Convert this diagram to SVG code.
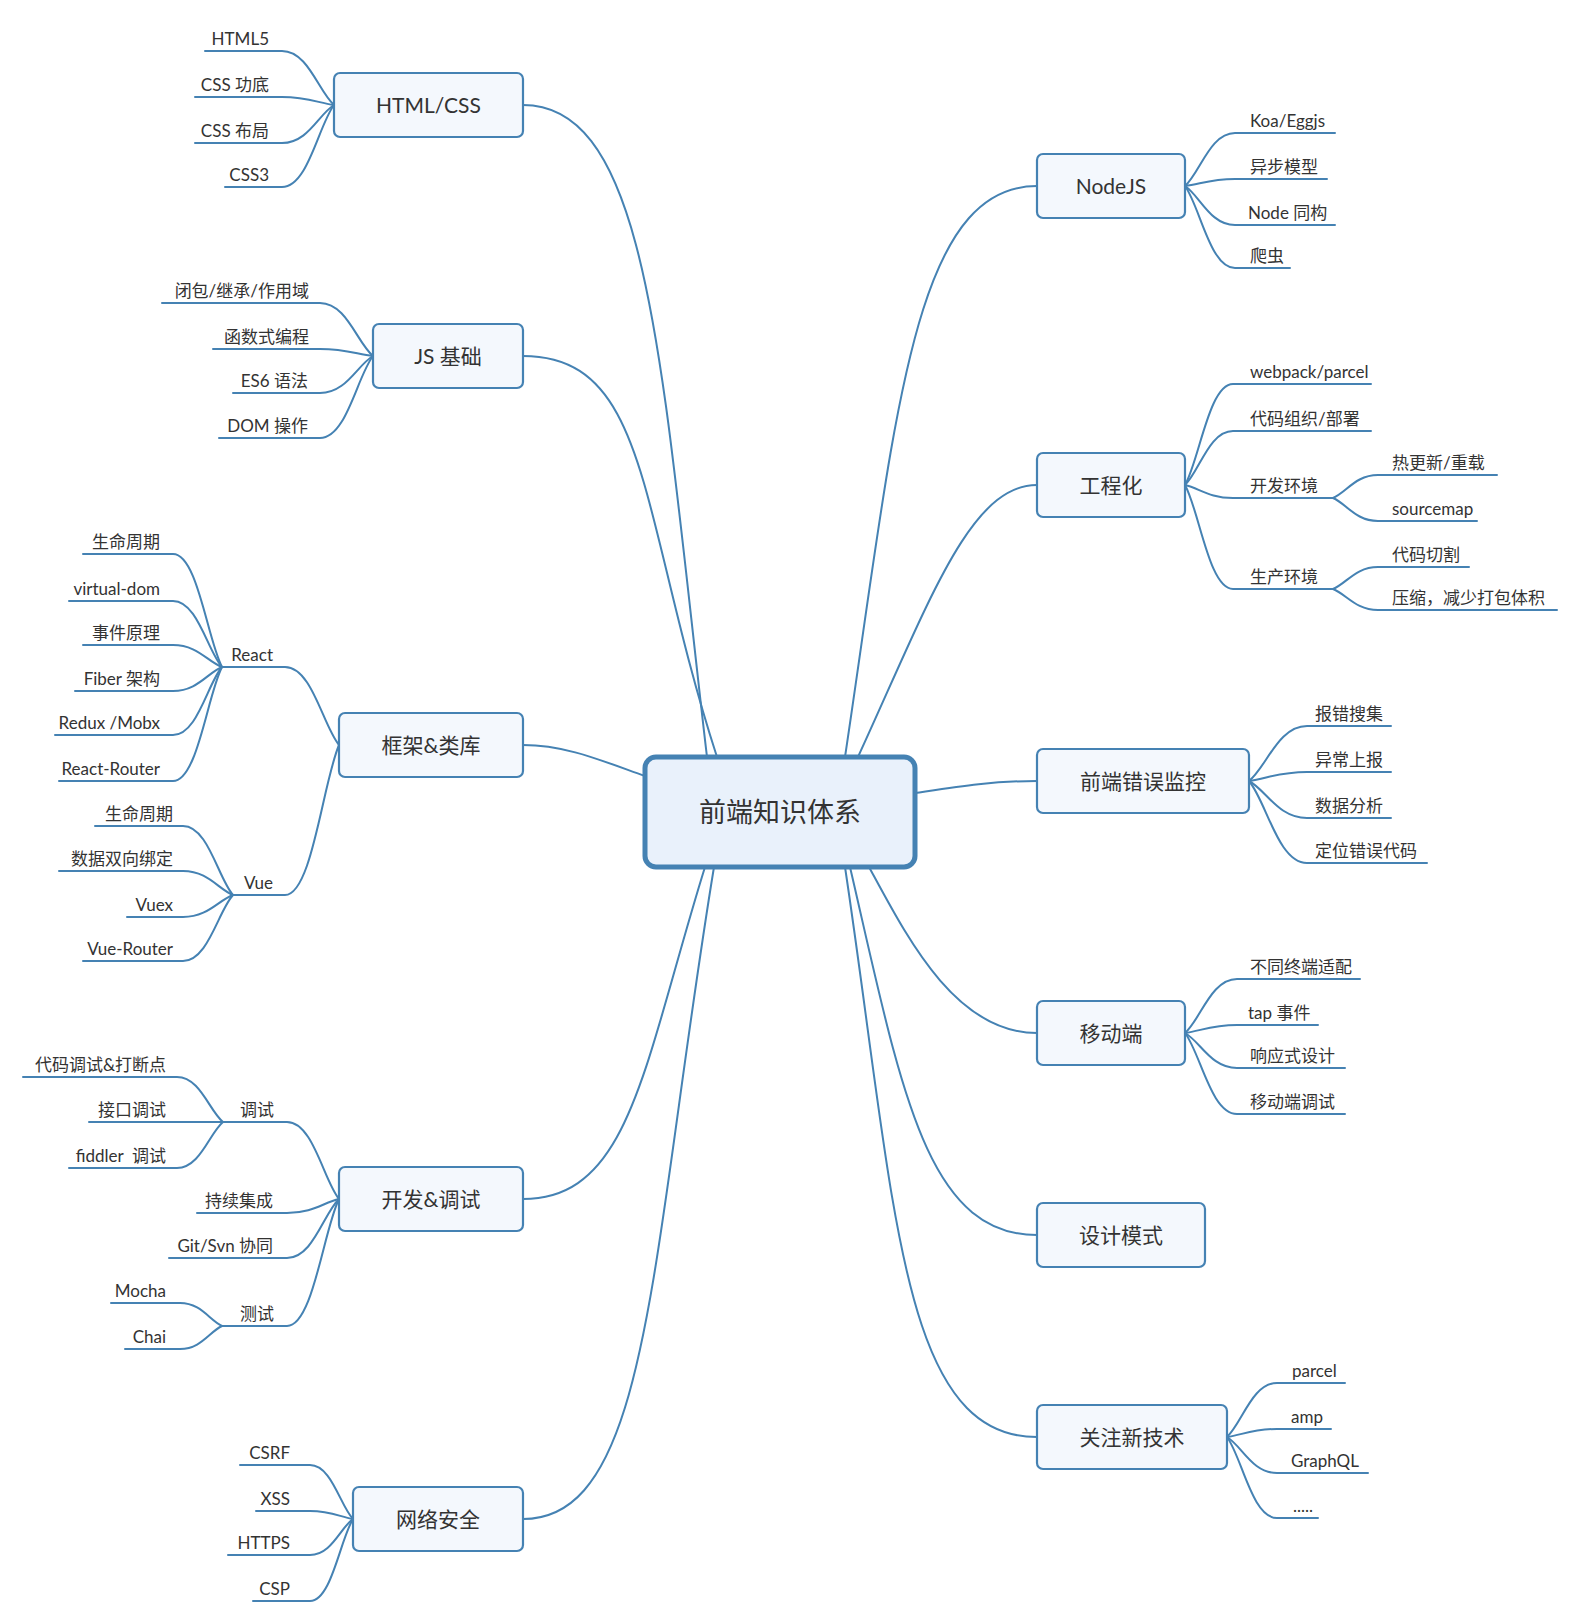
<svg xmlns="http://www.w3.org/2000/svg" width="1578" height="1622" viewBox="0 0 1578 1622">
<style>
.ln{fill:none;stroke:#4582b3;stroke-width:2;stroke-linecap:round}
.mb{fill:#f4f8fd;stroke:#4582b3;stroke-width:2.2}
.cb{fill:#e9f1fb;stroke:#4582b3;stroke-width:5}
.t{font-family:Lato,"Noto Sans CJK SC",sans-serif;fill:#333}
.s{font-size:17px}
.m{font-size:21px;text-anchor:middle}
.c{font-size:27px;text-anchor:middle}
.r{text-anchor:end}
</style>
<rect width="1578" height="1622" fill="#fff"/>
<g id="connectors">
<!-- main branches -->
<path class="ln" d="M707 757 C661 366 650 105 523 105"/>
<path class="ln" d="M717 757 C639 516 651 356 523 356"/>
<path class="ln" d="M645 776 C600 760 565 745 523 745"/>
<path class="ln" d="M705 867 C643 1067 630 1199 523 1199"/>
<path class="ln" d="M714 867 C650 1258 650 1519 523 1519"/>
<path class="ln" d="M845 757 C896 417 912 186 1037 186"/>
<path class="ln" d="M858 757 C930 600 970 485 1037 485"/>
<path class="ln" d="M915 793 C955 787 990 781 1037 781"/>
<path class="ln" d="M869 867 C907 937 955 1033 1037 1033"/>
<path class="ln" d="M850 867 C901 1087 925 1235 1037 1235"/>
<path class="ln" d="M845 867 C896 1207 900 1437 1037 1437"/>
<!-- HTML/CSS -->
<path class="ln" d="M205 51 H282 C308 51 318.4 91.5 334 105"/>
<path class="ln" d="M195 97 H282 C308 97 318.4 103 334 105"/>
<path class="ln" d="M195 143 H282 C308 143 318.4 114.5 334 105"/>
<path class="ln" d="M225 187 H282 C308 187 318.4 125.5 334 105"/>
<!-- JS -->
<path class="ln" d="M162 303 H320 C346.5 303 357 342.75 373 356"/>
<path class="ln" d="M213 349 H320 C346.5 349 357 354.25 373 356"/>
<path class="ln" d="M233 393 H320 C346.5 393 357 365.25 373 356"/>
<path class="ln" d="M219 438 H320 C346.5 438 357 376.5 373 356"/>
<!-- Framework -->
<path class="ln" d="M222 667 H285 C312 667 322.8 725.5 339 745"/>
<path class="ln" d="M233 895 H285 C312 895 322.8 782.5 339 745"/>
<path class="ln" d="M83 554 H173 C197.5 554 207.3 638.75 222 667"/>
<path class="ln" d="M69 601 H173 C197.5 601 207.3 650.5 222 667"/>
<path class="ln" d="M83 645 H173 C197.5 645 207.3 661.5 222 667"/>
<path class="ln" d="M75 691 H173 C197.5 691 207.3 673 222 667"/>
<path class="ln" d="M55 735 H173 C197.5 735 207.3 684 222 667"/>
<path class="ln" d="M59 781 H173 C197.5 781 207.3 695.5 222 667"/>
<path class="ln" d="M95 826 H183 C208 826 218 877.75 233 895"/>
<path class="ln" d="M59 871 H183 C208 871 218 889 233 895"/>
<path class="ln" d="M127 917 H183 C208 917 218 900.5 233 895"/>
<path class="ln" d="M83 961 H183 C208 961 218 911.5 233 895"/>
<!-- Dev & debug -->
<path class="ln" d="M223 1122 H287 C313 1122 323.4 1179.75 339 1199"/>
<path class="ln" d="M197 1213 H287 C313 1213 323.4 1202.5 339 1199"/>
<path class="ln" d="M169 1258 H287 C313 1258 323.4 1213.75 339 1199"/>
<path class="ln" d="M222 1326 H287 C313 1326 323.4 1230.75 339 1199"/>
<path class="ln" d="M23 1077 H177 C200 1077 209.2 1110.75 223 1122"/>
<path class="ln" d="M89 1122 H223"/>
<path class="ln" d="M69 1168 H177 C200 1168 209.2 1133.5 223 1122"/>
<path class="ln" d="M111 1303 H180 C201 1303 209.4 1320.25 222 1326"/>
<path class="ln" d="M125 1349 H180 C201 1349 209.4 1331.75 222 1326"/>
<!-- Security -->
<path class="ln" d="M240 1465 H310 C331.5 1465 340.1 1505.5 353 1519"/>
<path class="ln" d="M256 1511 H310 C331.5 1511 340.1 1517 353 1519"/>
<path class="ln" d="M228 1555 H310 C331.5 1555 340.1 1528 353 1519"/>
<path class="ln" d="M253 1601 H310 C331.5 1601 340.1 1539.5 353 1519"/>
<!-- NodeJS -->
<path class="ln" d="M1185 186 C1200 172.75 1210 133 1235 133 H1335"/>
<path class="ln" d="M1185 186 C1200 184.25 1210 179 1235 179 H1327"/>
<path class="ln" d="M1185 186 C1200 195.75 1210 225 1235 225 H1335"/>
<path class="ln" d="M1185 186 C1200 206.5 1210 268 1235 268 H1290"/>
<!-- Engineering -->
<path class="ln" d="M1185 485 C1199.4 459.75 1209 384 1233 384 H1371"/>
<path class="ln" d="M1185 485 C1199.4 471.5 1209 431 1233 431 H1371"/>
<path class="ln" d="M1185 485 C1199.4 488.25 1209 498 1233 498 H1333"/>
<path class="ln" d="M1185 485 C1199.4 511 1209 589 1233 589 H1333"/>
<path class="ln" d="M1333 498 C1346.5 492.25 1355.5 475 1378 475 H1497"/>
<path class="ln" d="M1333 498 C1346.5 503.75 1355.5 521 1378 521 H1477"/>
<path class="ln" d="M1333 589 C1346.5 583.5 1355.5 567 1378 567 H1469"/>
<path class="ln" d="M1333 589 C1346.5 594.25 1355.5 610 1378 610 H1557"/>
<!-- Error monitoring -->
<path class="ln" d="M1249 781 C1266.4 767.25 1278 726 1307 726 H1391"/>
<path class="ln" d="M1249 781 C1266.4 778.75 1278 772 1307 772 H1391"/>
<path class="ln" d="M1249 781 C1266.4 790.25 1278 818 1307 818 H1391"/>
<path class="ln" d="M1249 781 C1266.4 801.5 1278 863 1307 863 H1427"/>
<!-- Mobile -->
<path class="ln" d="M1185 1033 C1200.6 1019.5 1211 979 1237 979 H1360"/>
<path class="ln" d="M1185 1033 C1200.6 1031 1211 1025 1237 1025 H1318"/>
<path class="ln" d="M1185 1033 C1200.6 1041.75 1211 1068 1237 1068 H1345"/>
<path class="ln" d="M1185 1033 C1200.6 1053.25 1211 1114 1237 1114 H1345"/>
<!-- New tech -->
<path class="ln" d="M1227 1437 C1242 1423.5 1252 1383 1277 1383 H1345"/>
<path class="ln" d="M1227 1437 C1242 1435 1252 1429 1277 1429 H1331"/>
<path class="ln" d="M1227 1437 C1242 1446 1252 1473 1277 1473 H1368"/>
<path class="ln" d="M1227 1437 C1242 1457.25 1252 1518 1277 1518 H1318"/>
</g>

<g id="center">
<rect class="cb" x="645" y="757" width="270" height="110" rx="11"/>
<text class="t c" x="780" y="822">前端知识体系</text>
</g>

<g id="html-css">
<rect class="mb" x="334" y="73" width="189" height="64" rx="6"/>
<text class="t m" x="428.5" y="112.5">HTML/CSS</text>
<text class="t s r" x="269" y="45">HTML5</text>
<text class="t s r" x="269" y="91">CSS 功底</text>
<text class="t s r" x="269" y="137">CSS 布局</text>
<text class="t s r" x="269" y="181">CSS3</text>
</g>

<g id="js">
<rect class="mb" x="373" y="324" width="150" height="64" rx="6"/>
<text class="t m" x="448" y="363.5">JS 基础</text>
<text class="t s r" x="309" y="297">闭包/继承/作用域</text>
<text class="t s r" x="309" y="343">函数式编程</text>
<text class="t s r" x="308" y="387">ES6 语法</text>
<text class="t s r" x="308" y="432">DOM 操作</text>
</g>

<g id="framework">
<rect class="mb" x="339" y="713" width="184" height="64" rx="6"/>
<text class="t m" x="431" y="752.5">框架&amp;类库</text>
<text class="t s r" x="273" y="661">React</text>
<text class="t s r" x="160" y="548">生命周期</text>
<text class="t s r" x="160" y="595">virtual-dom</text>
<text class="t s r" x="160" y="639">事件原理</text>
<text class="t s r" x="160" y="685">Fiber 架构</text>
<text class="t s r" x="160" y="729">Redux /Mobx</text>
<text class="t s r" x="160" y="775">React-Router</text>
<text class="t s r" x="273" y="889">Vue</text>
<text class="t s r" x="173" y="820">生命周期</text>
<text class="t s r" x="173" y="865">数据双向绑定</text>
<text class="t s r" x="173" y="911">Vuex</text>
<text class="t s r" x="173" y="955">Vue-Router</text>
</g>

<g id="dev-debug">
<rect class="mb" x="339" y="1167" width="184" height="64" rx="6"/>
<text class="t m" x="431" y="1206.5">开发&amp;调试</text>
<text class="t s r" x="274" y="1116">调试</text>
<text class="t s r" x="166" y="1071">代码调试&amp;打断点</text>
<text class="t s r" x="166" y="1116">接口调试</text>
<text class="t s r" x="166" y="1162" xml:space="preserve">fiddler  调试</text>
<text class="t s r" x="273" y="1207">持续集成</text>
<text class="t s r" x="273" y="1252">Git/Svn 协同</text>
<text class="t s r" x="274" y="1320">测试</text>
<text class="t s r" x="166" y="1297">Mocha</text>
<text class="t s r" x="166" y="1343">Chai</text>
</g>

<g id="security">
<rect class="mb" x="353" y="1487" width="170" height="64" rx="6"/>
<text class="t m" x="438" y="1526.5">网络安全</text>
<text class="t s r" x="290" y="1459">CSRF</text>
<text class="t s r" x="290" y="1505">XSS</text>
<text class="t s r" x="290" y="1549">HTTPS</text>
<text class="t s r" x="290" y="1595">CSP</text>
</g>

<g id="nodejs">
<rect class="mb" x="1037" y="154" width="148" height="64" rx="6"/>
<text class="t m" x="1111" y="193.5">NodeJS</text>
<text class="t s" x="1250" y="127">Koa/Eggjs</text>
<text class="t s" x="1250" y="173">异步模型</text>
<text class="t s" x="1248" y="219">Node 同构</text>
<text class="t s" x="1250" y="262">爬虫</text>
</g>

<g id="engineering">
<rect class="mb" x="1037" y="453" width="148" height="64" rx="6"/>
<text class="t m" x="1111" y="492.5">工程化</text>
<text class="t s" x="1250" y="378">webpack/parcel</text>
<text class="t s" x="1250" y="425">代码组织/部署</text>
<text class="t s" x="1250" y="492">开发环境</text>
<text class="t s" x="1392" y="469">热更新/重载</text>
<text class="t s" x="1392" y="515">sourcemap</text>
<text class="t s" x="1250" y="583">生产环境</text>
<text class="t s" x="1392" y="561">代码切割</text>
<text class="t s" x="1392" y="604">压缩，减少打包体积</text>
</g>

<g id="error-monitor">
<rect class="mb" x="1037" y="749" width="212" height="64" rx="6"/>
<text class="t m" x="1143" y="788.5">前端错误监控</text>
<text class="t s" x="1315" y="720">报错搜集</text>
<text class="t s" x="1315" y="766">异常上报</text>
<text class="t s" x="1315" y="812">数据分析</text>
<text class="t s" x="1315" y="857">定位错误代码</text>
</g>

<g id="mobile">
<rect class="mb" x="1037" y="1001" width="148" height="64" rx="6"/>
<text class="t m" x="1111" y="1040.5">移动端</text>
<text class="t s" x="1250" y="973">不同终端适配</text>
<text class="t s" x="1248" y="1019">tap 事件</text>
<text class="t s" x="1250" y="1062">响应式设计</text>
<text class="t s" x="1250" y="1108">移动端调试</text>
</g>

<g id="design-pattern">
<rect class="mb" x="1037" y="1203" width="168" height="64" rx="6"/>
<text class="t m" x="1121" y="1242.5">设计模式</text>
</g>

<g id="new-tech">
<rect class="mb" x="1037" y="1405" width="190" height="64" rx="6"/>
<text class="t m" x="1132" y="1444.5">关注新技术</text>
<text class="t s" x="1292" y="1377">parcel</text>
<text class="t s" x="1291" y="1423">amp</text>
<text class="t s" x="1291" y="1467">GraphQL</text>
<text class="t s" x="1293" y="1512">.....</text>
</g>
</svg>
